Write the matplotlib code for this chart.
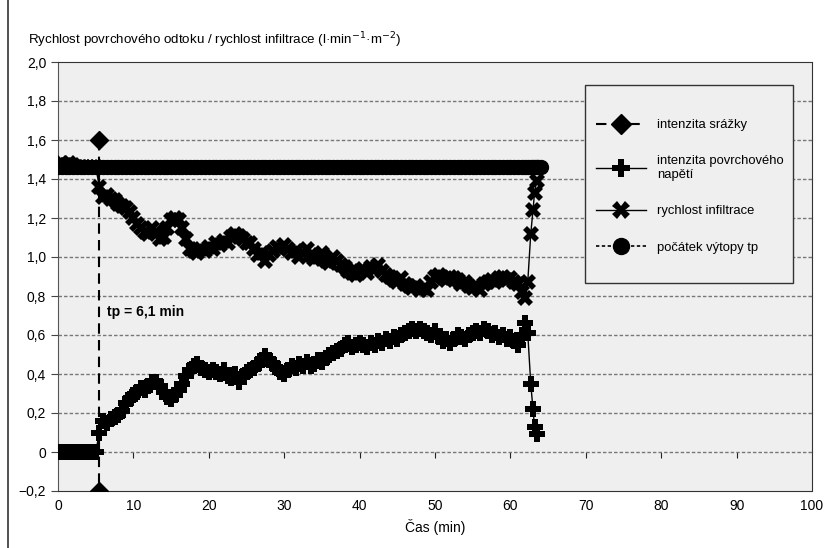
#!/usr/bin/env python3
import matplotlib
matplotlib.use('Agg')
import matplotlib.pyplot as plt
from matplotlib.lines import Line2D
from matplotlib.patches import Rectangle

plt.rcParams['font.family'] = ['Liberation Sans', 'DejaVu Sans']

# time before ponding (min)
time_pre = [0.0, 0.5, 1.0, 1.5, 2.0, 2.5, 3.0, 3.5, 4.0, 4.5, 5.0]
runoff_pre = [0.0] * len(time_pre)
infil_pre = [1.47, 1.48, 1.47, 1.48, 1.47, 1.46, 1.46, 1.46, 1.46, 1.46, 1.46]

# time after ponding (min)
time_main = [5.5, 6.0, 6.5, 7.0, 7.5, 8.0, 8.5, 9.0, 9.5, 10.0,
             10.5, 11.0, 11.5, 12.0, 12.5, 13.0, 13.5, 14.0, 14.5, 15.0,
             15.5, 16.0, 16.5, 17.0, 17.5, 18.0, 18.5, 19.0, 19.5, 20.0,
             20.5, 21.0, 21.5, 22.0, 22.5, 23.0, 23.5, 24.0, 24.5, 25.0,
             25.5, 26.0, 26.5, 27.0, 27.5, 28.0, 28.5, 29.0, 29.5, 30.0,
             30.5, 31.0, 31.5, 32.0, 32.5, 33.0, 33.5, 34.0, 34.5, 35.0,
             35.5, 36.0, 36.5, 37.0, 37.5, 38.0, 38.5, 39.0, 39.5, 40.0,
             40.5, 41.0, 41.5, 42.0, 42.5, 43.0, 43.5, 44.0, 44.5, 45.0,
             45.5, 46.0, 46.5, 47.0, 47.5, 48.0, 48.5, 49.0, 49.5, 50.0,
             50.5, 51.0, 51.5, 52.0, 52.5, 53.0, 53.5, 54.0, 54.5, 55.0,
             55.5, 56.0, 56.5, 57.0, 57.5, 58.0, 58.5, 59.0, 59.5, 60.0,
             60.5, 61.0, 61.5, 62.0, 62.3, 62.7, 63.0, 63.2, 63.5]

infil_main = [1.36, 1.31, 1.32, 1.30, 1.29, 1.27, 1.26, 1.25, 1.23, 1.20,
              1.17, 1.15, 1.13, 1.12, 1.15, 1.13, 1.09, 1.10, 1.15, 1.19,
              1.20, 1.19, 1.15, 1.09, 1.04, 1.03, 1.02, 1.04, 1.03, 1.05,
              1.04, 1.07, 1.06, 1.08, 1.07, 1.10, 1.12, 1.11, 1.09, 1.07,
              1.07, 1.04, 1.01, 1.02, 0.98, 1.01, 1.03, 1.05, 1.04, 1.06,
              1.04, 1.02, 1.03, 1.00, 1.02, 1.04, 1.01, 0.99, 1.00, 1.02,
              0.98, 0.97, 1.00, 0.98, 0.96, 0.95, 0.93, 0.92, 0.91, 0.93,
              0.94, 0.92, 0.95, 0.94, 0.96, 0.93, 0.91, 0.90, 0.88, 0.87,
              0.89, 0.86, 0.85, 0.84, 0.85, 0.83, 0.84, 0.83, 0.87, 0.90,
              0.91, 0.89, 0.88, 0.90, 0.89, 0.88, 0.86, 0.87, 0.85, 0.84,
              0.85, 0.83, 0.86, 0.87, 0.88, 0.87, 0.89, 0.90, 0.88, 0.89,
              0.87, 0.86, 0.82, 0.79, 0.87, 1.12, 1.24, 1.33, 1.39]

runoff_main = [0.10, 0.16, 0.15, 0.17, 0.18, 0.19, 0.21, 0.25, 0.27, 0.29,
               0.31, 0.33, 0.32, 0.34, 0.36, 0.36, 0.34, 0.31, 0.28, 0.27,
               0.29, 0.32, 0.35, 0.39, 0.42, 0.44, 0.45, 0.43, 0.42, 0.41,
               0.42, 0.41, 0.40, 0.42, 0.39, 0.38, 0.40, 0.36, 0.39, 0.41,
               0.42, 0.43, 0.45, 0.47, 0.49, 0.47, 0.45, 0.43, 0.41, 0.40,
               0.42, 0.44, 0.43, 0.45, 0.44, 0.46, 0.44, 0.45, 0.47, 0.46,
               0.48, 0.50, 0.51, 0.52, 0.53, 0.55, 0.56, 0.54, 0.55, 0.56,
               0.55, 0.54, 0.56, 0.55, 0.57, 0.56, 0.58, 0.57, 0.59, 0.58,
               0.60, 0.61, 0.62, 0.63, 0.62, 0.63, 0.62, 0.61, 0.60, 0.62,
               0.59, 0.57, 0.58, 0.56, 0.58, 0.60, 0.59, 0.58, 0.60, 0.61,
               0.62, 0.61, 0.63, 0.62, 0.60, 0.61, 0.59, 0.60, 0.58, 0.59,
               0.57, 0.55, 0.60, 0.66, 0.61, 0.35, 0.22, 0.13, 0.09]

# ponding start marker line (constant rain intensity)
ponding_rate = 1.46
ponding_end = [63.7, 64.0]

# rain intensity vertical line at tp
rain_x = [5.5, 5.5]
rain_y = [1.6, -0.2]

yticks = [-0.2, 0.0, 0.2, 0.4, 0.6, 0.8, 1.0, 1.2, 1.4, 1.6, 1.8, 2.0]
ytick_labels = ['\u22120,2', '0', '0,2', '0,4', '0,6', '0,8', '1,0', '1,2', '1,4', '1,6', '1,8', '2,0']
xticks = [0, 10, 20, 30, 40, 50, 60, 70, 80, 90, 100]

BG = '#eeefee'


def main():
    fig = plt.figure(figsize=(8.3, 5.48), dpi=100)
    ax = fig.add_axes([58 / 830, 57 / 548, 754 / 830, 429 / 548])
    ax.set_facecolor(BG)

    time_all = time_pre + time_main
    ponding_t = time_all + ponding_end

    ax.plot(ponding_t, [ponding_rate] * len(ponding_t), color='black', linestyle=(0, (2, 1.5)),
            lw=1.2, marker='o', ms=10, zorder=3, label='počátek výtopy tp')
    ax.plot(rain_x, rain_y, color='black', linestyle=(0, (5, 3)), lw=1.5,
            marker='D', ms=9, zorder=4, label='intenzita srážky')
    ax.plot(time_all, runoff_pre + runoff_main, color='black', lw=1,
            marker='P', ms=11, mew=0, zorder=5, label='intenzita povrchového\nnapětí')
    ax.plot(time_all, infil_pre + infil_main, color='black', lw=1,
            marker='X', ms=11, mew=0, zorder=5, label='rychlost infiltrace')

    ax.set_xlim(0, 100)
    ax.set_ylim(-0.2, 2.0)
    ax.set_yticks(yticks)
    ax.set_yticklabels(ytick_labels, fontsize=10)
    ax.set_xticks(xticks)
    ax.set_xticklabels([str(x) for x in xticks], fontsize=10)
    ax.tick_params(axis='x', length=0, pad=6)
    ax.tick_params(axis='y', length=5, direction='out', color='#444')

    for y in yticks[1:-1]:
        ax.axhline(y, color='#777', lw=1, linestyle=(0, (2.5, 1.5)), zorder=1)

    for s in ['top', 'bottom']:
        ax.spines[s].set_linestyle((0, (2.5, 1)))
        ax.spines[s].set_color('#333')
    ax.spines['left'].set_color('#555')
    ax.spines['right'].set_color('#333')

    # x ticks sitting on the zero line
    sec = ax.secondary_xaxis(0.2 / 2.2)
    sec.set_xticks(xticks[1:-1])
    sec.tick_params(length=4, direction='out', labelbottom=False, color='#222')
    sec.spines['bottom'].set_visible(False)

    ax.text(6.5, 0.72, 'tp = 6,1 min', fontsize=10, fontweight='bold', va='center', ha='left')

    ax.set_xlabel('Čas (min)', fontsize=10, labelpad=4)
    fig.text(28 / 830, 1 - 40 / 548, 'Rychlost povrchového odtoku / rychlost infiltrace (l\u00b7min$^{-1}$\u00b7m$^{-2}$)',
             fontsize=9.6, va='center', ha='left')

    # legend frame drawn separately, legend itself without frame
    ax.add_patch(Rectangle((0.699, 0.485), 0.276, 0.461, transform=ax.transAxes,
                           facecolor=BG, edgecolor='#333', lw=1, zorder=6))
    handles, labels = ax.get_legend_handles_labels()
    order = [1, 2, 3, 0]
    leg = ax.legend([handles[i] for i in order], [labels[i] for i in order],
                    loc='center left', bbox_to_anchor=(0.714, 0.71),
                    fontsize=9.4, handlelength=3.8, handletextpad=0.85, labelspacing=1.85,
                    borderpad=0, borderaxespad=0, frameon=False, markerscale=1.15)
    leg.set_zorder(7)

    fig.add_artist(Line2D([8 / 830, 8 / 830], [0, 1], color='#333', lw=1.2))

    fig.savefig('out.png', dpi=100)


if __name__ == '__main__':
    main()
